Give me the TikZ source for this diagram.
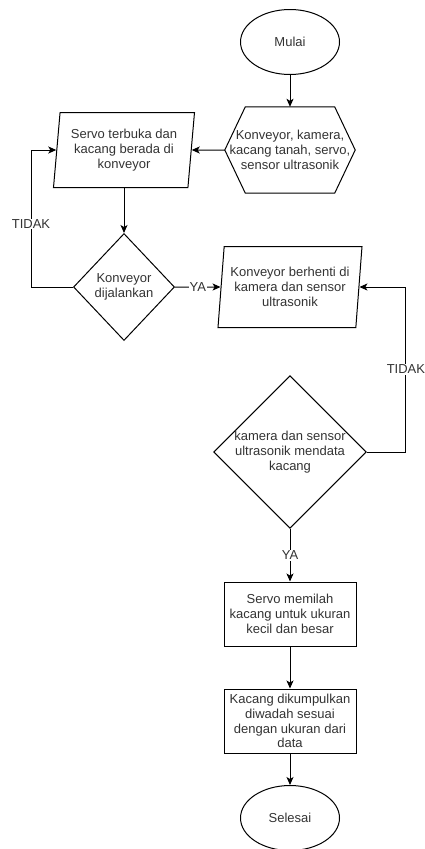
\documentclass[tikz,border=0pt]{standalone}
\usepackage{fontspec}
\setmainfont{Liberation Sans}
\usepackage{tikz}
\usetikzlibrary{shapes.geometric}
\usetikzlibrary{arrows.meta}
\usetikzlibrary{positioning}
\definecolor{txt}{HTML}{333333}
\tikzset{
    terminal/.style={
           ellipse,
           draw=black, line width=1pt,
           minimum width=99pt,
           minimum height=65pt,
           inner sep=0pt,
           text centered,
           },
    prep/.style={
           rectangle,
           minimum width=130pt,
           minimum height=86pt,
           inner sep=0pt,
           align=center,
           append after command={\pgfextra{
              \draw[line width=1pt] (\tikzlastnode.west)
                 -- ([xshift=20.5pt]\tikzlastnode.north west)
                 -- ([xshift=-20.5pt]\tikzlastnode.north east)
                 -- (\tikzlastnode.east)
                 -- ([xshift=-20.5pt]\tikzlastnode.south east)
                 -- ([xshift=20.5pt]\tikzlastnode.south west) -- cycle;}},
           },
    io/.style={
           trapezium, trapezium stretches body,
           trapezium left angle=81, trapezium right angle=99,
           draw=black, line width=1pt,
           minimum height=75pt,
           inner sep=0pt,
           align=center,
           },
    decision/.style={
           diamond,
           draw=black, line width=1pt,
           inner sep=0pt,
           align=center,
           },
    process/.style={
           rectangle,
           draw=black, line width=1pt,
           minimum width=132pt,
           minimum height=64pt,
           inner sep=0pt,
           align=center,
           },
    answer/.style={
              fill=white,
              inner sep=1pt,
              anchor=center,
              text=txt,
              },
}

\begin{document}
\begin{tikzpicture}[x=1pt, y=-1pt, >={Stealth[length=8pt,width=7pt,inset=2pt]},
    on grid, font=\fontsize{13}{14.7}\selectfont, text=txt]
   \useasboundingbox (0,0) rectangle (424,849);
   \node[terminal] (mulai) at (290,42) {Mulai};
   \node[prep] (init) [below=108pt of mulai] {Konveyor, kamera,\\kacang tanah, servo,\\sensor ultrasonik};
   \node[io, minimum width=141pt] (buka) [left=166pt of init] {Servo terbuka dan\\kacang berada di\\konveyor};
   \node[decision, minimum width=101pt, minimum height=107pt] (jalan) [below=137pt of buka] {Konveyor\\dijalankan};
   \node[io, minimum width=144pt, minimum height=81pt] (henti) [right=166pt of jalan] {Konveyor berhenti di\\kamera dan sensor\\ultrasonik};
   \node[decision, minimum width=146pt, minimum height=150pt] (data) [below=165pt of henti] {kamera dan sensor\\ultrasonik mendata\\kacang};
   \node[process] (pilah) [below=162pt of data] {Servo memilah\\kacang untuk ukuran\\kecil dan besar};
   \node[process] (kumpul) [below=107pt of pilah] {Kacang dikumpulkan\\diwadah sesuai\\dengan ukuran dari\\data};
   \node[terminal] (selesai) [below=97pt of kumpul] {Selesai};

   \path[->, line width=1pt]
    (mulai) edge node        {} (init)
    (init) edge node        {} (buka)
    (buka) edge node        {} (jalan)
    (jalan) edge node[answer, pos=0.5] {YA} (henti)
    (data) edge node[answer, pos=0.5] {YA} (pilah)
    (pilah) edge node        {} (kumpul)
    (kumpul) edge node        {} (selesai)
       ;
   \draw[->, line width=1pt] (jalan.west) -- ++(-42,0) |- node[answer, pos=0.23] {TIDAK} (buka.west);
   \draw[->, line width=1pt] (data.east) -- ++(39,0) |- node[answer, pos=0.25] {TIDAK} (henti.east);
\end{tikzpicture}
\end{document}
